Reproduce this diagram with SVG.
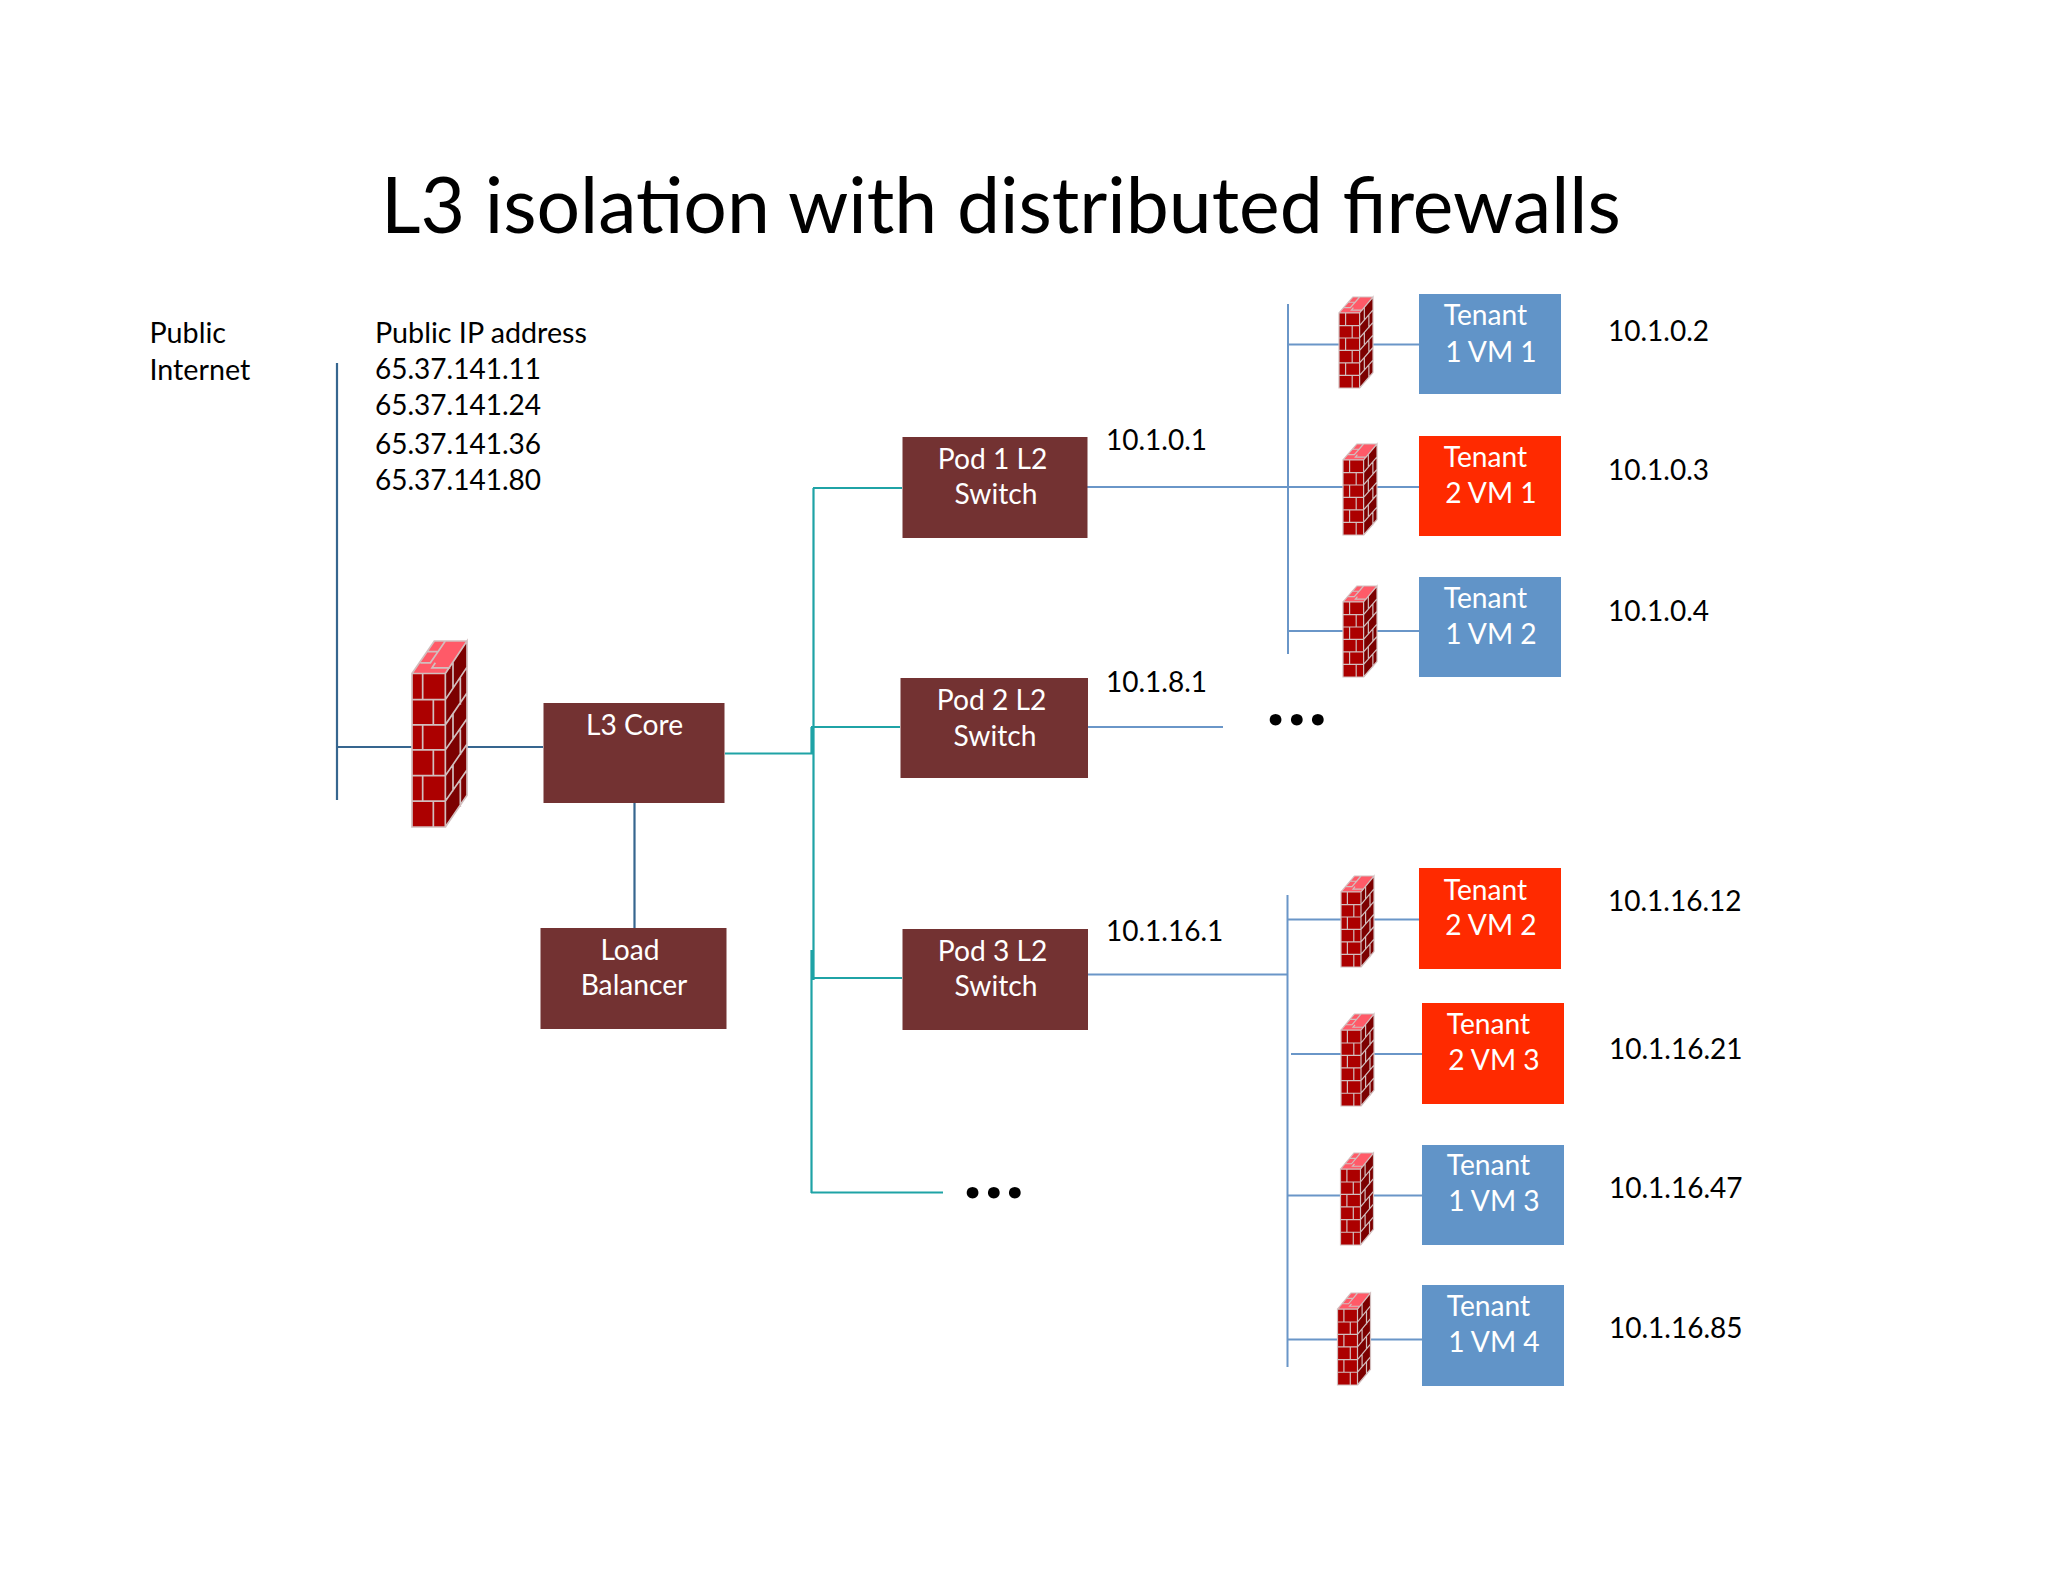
<svg xmlns="http://www.w3.org/2000/svg" xmlns:xlink="http://www.w3.org/1999/xlink" width="2048" height="1582" viewBox="0 0 2048 1582">
<style>
text{font-family:"Lato","Open Sans","Liberation Sans",sans-serif}
.t{font-size:28.7px;fill:#000}
.n{font-size:28px;fill:#000}
.w{font-size:28.2px;fill:#fff;text-anchor:middle}
.title{font-size:76.9px;fill:#000}
.dots{font-size:72px;font-weight:900;fill:#000}
.br{fill:#733232}.bl{fill:#6194c8}.rd{fill:#ff2a00}
.teal{stroke:#1fa3a6;stroke-width:2.2;fill:none}
.pub{stroke:#36668f;stroke-width:2.2;fill:none}
.lan{stroke:#6a96c8;stroke-width:2;fill:none}
.mort{stroke:#d2bebe;stroke-width:var(--m,1.2px);fill:none;vector-effect:non-scaling-stroke}
#fw{overflow:visible}
</style>
<defs>
<symbol id="fw" viewBox="0 0 165 555" preserveAspectRatio="none">
<polygon points="0,97 100,97 100,555 0,555" fill="#ac0000"/>
<polygon points="100,97 165,0 165,460 100,555" fill="#7c0000"/>
<polygon points="0,97 67,0 165,0 100,97" fill="#ff5a68"/>
<path class="mort" d="M0,97H100V555H0ZM100,97L165,0V460L100,555M0,97L67,0H165M0,175H100L165,78M0,250H100L165,155M0,325H100L165,232M0,402H100L165,308M0,478H100L165,385M32,97V175M64,175V250M32,250V325M64,325V402M32,402V478M64,478V555M123,63L123,140M145,110V190M123,216V293M145,264V340M123,370V448M145,415V495M45,32H78L55,65H25M70,65L60,80H115M78,32L100,0"/>
</symbol>
</defs>
<rect width="2048" height="1582" fill="#fff"/>
<g id="connectors">
<path class="pub" d="M337,363V800M337,747H412M467,747H543M634.500,802V929"/>
<path class="teal" d="M725,753.500H813.500M813.500,488V980M811.500,727V754M811.500,950V1193M813,488H902M811,727H900M811,978H902M811,1192.500H943"/>
<path class="lan" d="M1087,487H1419M1088,727H1223M1087,974.500H1288M1288,304V654M1287.500,895V1367M1288,344.500H1419M1288,631H1419M1287,919.500H1419M1291,1054H1422M1287,1195.500H1422M1287,1339.500H1422"/>
</g>
<text id="title" class="title" x="381" y="233">L3 isolation with distributed firewalls</text>
<g id="public-internet"><text class="t" x="149.500" y="343">Public</text><text class="t" x="149.500" y="380">Internet</text></g>
<g id="public-ips"><text class="t" x="375" y="343">Public IP address</text><text class="n" x="375" y="379">65.37.141.11</text><text class="n" x="375" y="415">65.37.141.24</text><text class="n" x="375" y="454">65.37.141.36</text><text class="n" x="375" y="490">65.37.141.80</text></g>
<g id="main-firewall" style="--m:1.7px"><use xlink:href="#fw" href="#fw" x="412" y="641" width="55" height="186"/></g>
<g id="l3-core"><rect class="br" x="543.500" y="703" width="181" height="100"/><text class="w" x="634.500" y="734.500">L3 Core</text></g>
<g id="load-balancer"><rect class="br" x="540.500" y="928" width="186" height="101"/><text class="w" x="630" y="960">Load</text><text class="w" x="634" y="995">Balancer</text></g>
<g id="pod1"><rect class="br" x="902.500" y="437" width="185" height="101"/><text class="w" x="992.500" y="469">Pod 1 L2</text><text class="w" x="996" y="504">Switch</text></g>
<g id="pod2"><rect class="br" x="900.500" y="678" width="187.500" height="100"/><text class="w" x="991.500" y="710">Pod 2 L2</text><text class="w" x="995" y="746">Switch</text></g>
<g id="pod3"><rect class="br" x="902.500" y="929" width="185.500" height="101"/><text class="w" x="992.500" y="961">Pod 3 L2</text><text class="w" x="996" y="996">Switch</text></g>
<g id="ip-pods"><text class="n" x="1106" y="450">10.1.0.1</text><text class="n" x="1106" y="692">10.1.8.1</text><text class="n" x="1106" y="941">10.1.16.1</text></g>
<g id="dots-1"><text class="dots" x="1267" y="724.500" letter-spacing="4">...</text></g>
<g id="dots-2"><text class="dots" x="964" y="1197.500" letter-spacing="4">...</text></g>
<g id="fw1"><use href="#fw" x="1339" y="297" width="34" height="91"/></g>
<g id="fw2"><use href="#fw" x="1343" y="444" width="34" height="91"/></g>
<g id="fw3"><use href="#fw" x="1343" y="586" width="34" height="91"/></g>
<g id="fw4"><use href="#fw" x="1341" y="876" width="33" height="91"/></g>
<g id="fw5"><use href="#fw" x="1341" y="1014" width="33" height="92"/></g>
<g id="fw6"><use href="#fw" x="1340.500" y="1153" width="33" height="92"/></g>
<g id="fw7"><use href="#fw" x="1337.500" y="1293" width="33" height="92"/></g>
<g id="t1vm1"><rect class="bl" x="1419" y="294" width="142" height="100"/><text class="w" x="1485.500" y="325">Tenant</text><text class="w" x="1491" y="362">1 VM 1</text></g>
<g id="t2vm1"><rect class="rd" x="1419" y="436" width="142" height="100"/><text class="w" x="1485.500" y="467">Tenant</text><text class="w" x="1491" y="503">2 VM 1</text></g>
<g id="t1vm2"><rect class="bl" x="1419" y="577" width="142" height="100"/><text class="w" x="1485.500" y="608">Tenant</text><text class="w" x="1491" y="644">1 VM 2</text></g>
<g id="t2vm2"><rect class="rd" x="1419" y="868" width="142" height="101"/><text class="w" x="1485.500" y="900">Tenant</text><text class="w" x="1491" y="935">2 VM 2</text></g>
<g id="t2vm3"><rect class="rd" x="1422" y="1003" width="142" height="101"/><text class="w" x="1488.500" y="1034">Tenant</text><text class="w" x="1494" y="1070">2 VM 3</text></g>
<g id="t1vm3"><rect class="bl" x="1422" y="1145" width="142" height="100"/><text class="w" x="1488.500" y="1175">Tenant</text><text class="w" x="1494" y="1211">1 VM 3</text></g>
<g id="t1vm4"><rect class="bl" x="1422" y="1285" width="142" height="101"/><text class="w" x="1488.500" y="1316">Tenant</text><text class="w" x="1494" y="1352">1 VM 4</text></g>
<g id="ip-vms"><text class="n" x="1608" y="341">10.1.0.2</text><text class="n" x="1608" y="480">10.1.0.3</text><text class="n" x="1608" y="621">10.1.0.4</text><text class="n" x="1608" y="911">10.1.16.12</text><text class="n" x="1609" y="1059">10.1.16.21</text><text class="n" x="1609" y="1198">10.1.16.47</text><text class="n" x="1609" y="1338">10.1.16.85</text></g>
</svg>
